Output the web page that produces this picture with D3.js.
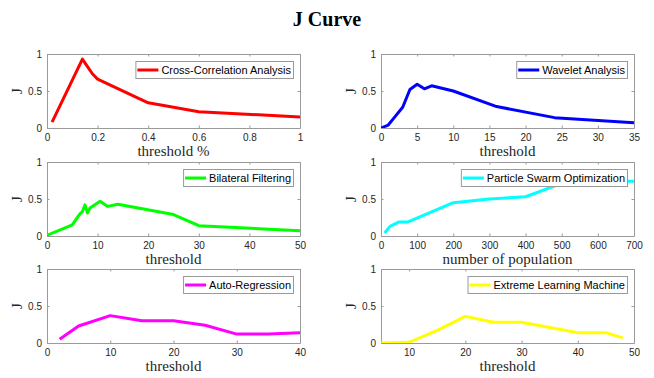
<!DOCTYPE html>
<html>
<head>
<meta charset="utf-8">
<script src="https://cdn.jsdelivr.net/npm/d3@7"></script>
<style>
  html, body { margin: 0; padding: 0; background: #fff; }
  svg { display: block; }
</style>
</head>
<body>
<svg id="chart" width="654" height="378"></svg>
<script>
// J values for each detection method
const ccaX = [0.02, 0.14, 0.16, 0.18, 0.2, 0.4, 0.6, 1];
const ccaY = [0.08, 0.93, 0.83, 0.73, 0.66, 0.34, 0.22, 0.15];

const waveX = [0, 1, 2, 3, 4, 5, 6, 7, 10, 16, 24, 35];
const waveY = [0, 0.04, 0.16, 0.28, 0.52, 0.59, 0.53, 0.57, 0.50, 0.29, 0.14, 0.07];

const bilX = [0, 5, 5.5, 6.5, 7, 7.5, 8, 8.5, 10.5, 12, 14, 25, 30, 50];
const bilY = [0.01, 0.15, 0.2, 0.3, 0.33, 0.42, 0.31, 0.38, 0.47, 0.40, 0.43, 0.29, 0.14, 0.07];

const psoX = [10, 25, 50, 75, 200, 300, 400, 500, 600, 700];
const psoY = [0.04, 0.13, 0.19, 0.19, 0.45, 0.50, 0.53, 0.71, 0.74, 0.74];

const arX = [2, 5, 10, 15, 20, 25, 30, 35, 40];
const arY = [0.05, 0.23, 0.37, 0.30, 0.30, 0.24, 0.12, 0.12, 0.14];

const elmX = [5, 10, 15, 20, 25, 30, 35, 40, 45, 48];
const elmY = [0, 0.01, 0.17, 0.36, 0.28, 0.28, 0.21, 0.14, 0.14, 0.07];

const seriesNames = ["Cross-Correlation Analysis", "Wavelet Analysis", "Bilateral Filtering",
                     "Particle Swarm Optimization", "Auto-Regression", "Extreme Learning Machine"];
const xLabels = ["threshold %", "threshold", "threshold", "number of population", "threshold", "threshold"];
const xDomains = [[0, 1], [0, 35], [0, 50], [0, 700], [0, 40], [5, 50]];
const xTickValues = [
  [0, 0.2, 0.4, 0.6, 0.8, 1],
  [0, 5, 10, 15, 20, 25, 30, 35],
  [0, 10, 20, 30, 40, 50],
  [0, 100, 200, 300, 400, 500, 600, 700],
  [0, 10, 20, 30, 40],
  [10, 20, 30, 40, 50]
];
const yTickValues = [0, 0.5, 1];
const titleText = "J Curve";
const yLabelText = "J";

const seriesX = [ccaX, waveX, bilX, psoX, arX, elmX];
const seriesY = [ccaY, waveY, bilY, psoY, arY, elmY];
const colors = ["#ff0000", "#0000ff", "#00ff00", "#00ffff", "#ff00ff", "#ffff00"];

// layout of the 3x2 grid of axes
const colLeft = [47, 381];
const rowTop = [54, 162, 269];
const plotW = 253, plotH = 74;
const axisColor = "#9a9a9a";
const textColor = "#262626";
const tickLen = 2.5;

const svg = d3.select("#chart");

svg.append("text")
  .attr("x", 327).attr("y", 26)
  .attr("text-anchor", "middle")
  .attr("font-family", "'Liberation Serif', 'Times New Roman', serif")
  .attr("font-weight", "bold")
  .attr("font-size", 20)
  .attr("fill", "#000")
  .text(titleText);

seriesNames.forEach((name, i) => {
  const left = colLeft[i % 2], top = rowTop[Math.floor(i / 2)];
  const x = d3.scaleLinear().domain(xDomains[i]).range([0, plotW]);
  const y = d3.scaleLinear().domain([0, 1]).range([plotH, 0]);
  const g = svg.append("g").attr("transform", `translate(${left},${top})`);

  g.append("defs").append("clipPath").attr("id", "clip" + i)
    .append("rect").attr("width", plotW).attr("height", plotH);

  // axes with inward ticks on all four sides
  const bottom = g.append("g").attr("transform", `translate(0,${plotH})`)
    .call(d3.axisBottom(x).tickValues(xTickValues[i]).tickSizeInner(-tickLen).tickSizeOuter(0).tickPadding(6).tickFormat(d => String(d)));
  const topAx = g.append("g")
    .call(d3.axisTop(x).tickValues(xTickValues[i]).tickSizeInner(-tickLen).tickSizeOuter(0).tickFormat(""));
  const leftAx = g.append("g")
    .call(d3.axisLeft(y).tickValues(yTickValues).tickSizeInner(-tickLen).tickSizeOuter(0).tickPadding(5).tickFormat(d => String(d)));
  const rightAx = g.append("g").attr("transform", `translate(${plotW},0)`)
    .call(d3.axisRight(y).tickValues(yTickValues).tickSizeInner(-tickLen).tickSizeOuter(0).tickFormat(""));

  [bottom, topAx, leftAx, rightAx].forEach(a => {
    a.select(".domain").attr("stroke", axisColor).attr("stroke-width", 1);
    a.selectAll(".tick line").attr("stroke", axisColor).attr("stroke-width", 1);
    a.selectAll(".tick text")
      .attr("fill", textColor)
      .attr("font-family", "'Liberation Sans', Arial, sans-serif")
      .attr("font-size", 10);
  });
  bottom.selectAll(".tick text").attr("dy", "0.71em").attr("y", 6);

  // data line
  const pts = seriesX[i].map((v, k) => [v, seriesY[i][k]]);
  g.append("path")
    .datum(pts)
    .attr("clip-path", `url(#clip${i})`)
    .attr("fill", "none")
    .attr("stroke", colors[i])
    .attr("stroke-width", 3)
    .attr("stroke-linejoin", "round")
    .attr("d", d3.line().x(d => x(d[0])).y(d => y(d[1])));

  // axis labels
  g.append("text")
    .attr("x", plotW / 2).attr("y", plotH + 28)
    .attr("text-anchor", "middle")
    .attr("font-family", "'Liberation Serif', 'Times New Roman', serif")
    .attr("font-size", 15)
    .attr("fill", textColor)
    .text(xLabels[i]);
  g.append("text")
    .attr("transform", `translate(${-25},${plotH / 2}) rotate(-90)`)
    .attr("text-anchor", "middle")
    .attr("font-family", "'Liberation Serif', 'Times New Roman', serif")
    .attr("font-size", 15)
    .attr("fill", textColor)
    .text(yLabelText);

  // legend box in the upper right corner
  const lg = g.append("g");
  const boxRight = plotW - 7, boxTop = 7, boxH = 17;
  const label = lg.append("text")
    .attr("font-family", "'Liberation Sans', Arial, sans-serif")
    .attr("font-size", 11)
    .attr("fill", "#000")
    .attr("text-anchor", "end")
    .attr("x", boxRight - 2)
    .attr("y", boxTop + boxH / 2 + 4)
    .text(name);
  const tw = label.node().getComputedTextLength();
  const textStart = boxRight - 2 - tw;
  const lineStart = textStart - 24;
  const boxLeft = lineStart - 2;
  lg.insert("rect", "text")
    .attr("x", boxLeft + 0.5).attr("y", boxTop + 0.5)
    .attr("width", boxRight - boxLeft).attr("height", boxH)
    .attr("fill", "#fff").attr("stroke", axisColor).attr("stroke-width", 1);
  lg.insert("line", "text")
    .attr("x1", lineStart).attr("x2", textStart - 3)
    .attr("y1", boxTop + boxH / 2 + 0.5).attr("y2", boxTop + boxH / 2 + 0.5)
    .attr("stroke", colors[i]).attr("stroke-width", 3);
});
</script>
</body>
</html>
